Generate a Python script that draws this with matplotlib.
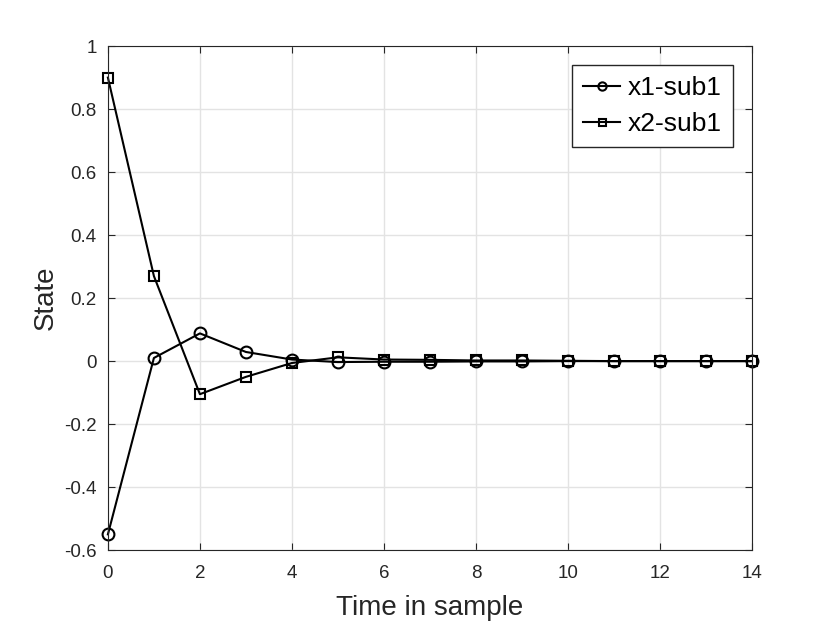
import matplotlib.pyplot as plt
import numpy as np

plt.rcParams['font.family'] = ['Liberation Sans', 'DejaVu Sans']

t = np.arange(0, 15)
x1 = [-0.55, 0.01, 0.088, 0.029, 0.005, -0.003, -0.002, -0.002, -0.001, -0.001, 0.0, 0.0, 0.0, 0.0, 0.0]
x2 = [0.90, 0.27, -0.105, -0.05, -0.006, 0.012, 0.005, 0.004, 0.002, 0.002, 0.001, 0.0, 0.0, 0.0, 0.0]
labels = ['x1-sub1', 'x2-sub1']

fig = plt.figure(figsize=(8.3, 6.23), dpi=100)
ax = fig.add_axes([0.130, 0.117, 0.776, 0.809])

ax.plot(t, x1, 'k-', marker='o', markersize=8.5, markerfacecolor='none',
        markeredgewidth=1.5, linewidth=1.5, label=labels[0], clip_on=False)
ax.plot(t, x2, 'k-', marker='s', markersize=7.2, markerfacecolor='none',
        markeredgewidth=1.5, linewidth=1.5, label=labels[1], clip_on=False)

ax.set_xlim(0, 14)
ax.set_ylim(-0.6, 1)
ax.set_xticks(np.arange(0, 15, 2))
ax.set_yticks(np.arange(-0.6, 1.01, 0.2))
ax.set_yticklabels(['-0.6', '-0.4', '-0.2', '0', '0.2', '0.4', '0.6', '0.8', '1'])

ax.grid(True, color='#e3e3e3', linewidth=1)
ax.set_axisbelow(True)
ax.tick_params(direction='in', top=True, right=True, labelsize=13.5,
               colors='#262626', length=5)
ax.tick_params(axis='x', pad=11)
ax.tick_params(axis='y', pad=8)
for s in ax.spines.values():
    s.set_color('#262626')

ax.set_xlabel('Time in sample', fontsize=20, color='#262626', labelpad=9)
ax.set_ylabel('State', fontsize=20, color='#262626', labelpad=4)

leg = ax.legend(loc='upper right', fontsize=19, handlelength=1.4,
                fancybox=False, edgecolor='#262626', framealpha=1,
                borderaxespad=0.72, markerscale=0.7, handletextpad=0.3,
                labelspacing=0.45, borderpad=0.42)
leg.get_frame().set_linewidth(1)

fig.savefig('out.png')
